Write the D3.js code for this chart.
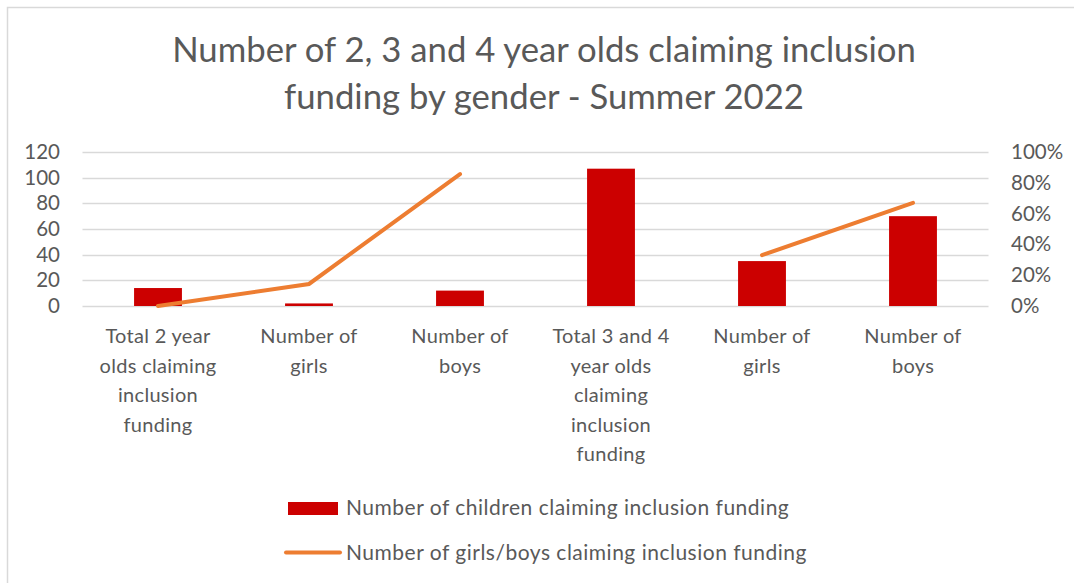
<!DOCTYPE html>
<html>
<head>
<meta charset="utf-8">
<script src="https://cdn.jsdelivr.net/npm/d3@7"></script>
<style>
  body { margin: 0; background: #fff; }
  text { font-family: Lato, "Open Sans", sans-serif; fill: #595959; }
</style>
</head>
<body>
<script>
// data
const categories = [
    ["Total 2 year", "olds claiming", "inclusion", "funding"],
    ["Number of", "girls"],
    ["Number of", "boys"],
    ["Total 3 and 4", "year olds", "claiming", "inclusion", "funding"],
    ["Number of", "girls"],
    ["Number of", "boys"]
]
const children = [14, 2, 12, 107, 35, 70]
const shares = [0, 0.143, 0.857, null, 0.33, 0.67]
const leftTicks = [0, 20, 40, 60, 80, 100, 120]
const rightTicks = [0, 0.2, 0.4, 0.6, 0.8, 1]

const W = 1074, H = 583
const plot = { left: 82.5, right: 988.5, top: 152, bottom: 306 }

var svg = d3.select("body")
    .append("svg")
    .attr("width", W)
    .attr("height", H)

// chart border (only top and left show in the picture)
svg.append("path")
    .attr("d", "M7.5,583 V7.5 H1074")
    .attr("fill", "none")
    .attr("stroke", "#d9d9d9")
    .attr("stroke-width", 1.5)

// title
const title = svg.append("text")
    .attr("text-anchor", "middle")
    .style("font-size", "34.7px")
title.append("tspan").attr("x", 544).attr("y", 62).text("Number of 2, 3 and 4 year olds claiming inclusion")
title.append("tspan").attr("x", 544).attr("y", 109).text("funding by gender - Summer 2022")

const x = d3.scaleBand()
    .domain(d3.range(categories.length))
    .range([plot.left, plot.right])
    .padding(0)

const y = d3.scaleLinear().domain([0, 120]).range([plot.bottom, plot.top])
const y2 = d3.scaleLinear().domain([0, 1]).range([plot.bottom, plot.top])

// gridlines
svg.append("g")
    .selectAll("line")
    .data(leftTicks)
    .enter()
    .append("line")
    .attr("x1", plot.left)
    .attr("x2", plot.right)
    .attr("y1", d => Math.round(y(d)) + 0.5)
    .attr("y2", d => Math.round(y(d)) + 0.5)
    .attr("stroke", "#d9d9d9")
    .attr("stroke-width", 1.3)

// left axis
const leftAxis = svg.append("g")
    .attr("transform", `translate(60,0)`)
    .call(d3.axisLeft(y).tickValues(leftTicks).tickSize(0).tickPadding(0))
leftAxis.select(".domain").remove()
leftAxis.selectAll("text")
    .style("font-size", "20.5px")
    .style("font-family", "Lato, sans-serif")
    .attr("fill", "#595959")

// right axis
const rightAxis = svg.append("g")
    .attr("transform", `translate(1011,0)`)
    .call(d3.axisRight(y2).tickValues(rightTicks).tickFormat(d3.format(".0%")).tickSize(0).tickPadding(0))
rightAxis.select(".domain").remove()
rightAxis.selectAll("text")
    .style("font-size", "20.5px")
    .style("font-family", "Lato, sans-serif")
    .attr("fill", "#595959")

// bars
const barW = x.bandwidth() * 0.317
svg.append("g")
    .selectAll("rect")
    .data(children)
    .enter()
    .append("rect")
    .attr("x", (d, i) => x(i) + x.bandwidth() / 2 - barW / 2)
    .attr("y", d => y(d))
    .attr("width", barW)
    .attr("height", d => y(0) - y(d))
    .attr("fill", "#cc0000")

// line (breaks where there is no value)
const line = d3.line()
    .defined(d => d != null)
    .x((d, i) => x(i) + x.bandwidth() / 2)
    .y(d => y2(d))
svg.append("path")
    .datum(shares)
    .attr("d", line)
    .attr("fill", "none")
    .attr("stroke", "#ed7d31")
    .attr("stroke-width", 4)
    .attr("stroke-linecap", "round")

// category labels
const labels = svg.append("g")
    .selectAll("text")
    .data(categories)
    .enter()
    .append("text")
    .attr("text-anchor", "middle")
    .style("font-size", "20px")
    .style("letter-spacing", "0.3px")
labels.selectAll("tspan")
    .data((d, i) => d.map(t => ({ t, i })))
    .enter()
    .append("tspan")
    .attr("x", d => x(d.i) + x.bandwidth() / 2)
    .attr("y", (d, j) => 343 + j * 29.5)
    .text(d => d.t)

// legend
const legend = svg.append("g")
legend.append("rect")
    .attr("x", 288).attr("y", 502)
    .attr("width", 50).attr("height", 13)
    .attr("fill", "#cc0000")
legend.append("text")
    .attr("x", 346).attr("y", 515)
    .style("font-size", "21px")
    .style("letter-spacing", "0.5px")
    .text("Number of children claiming inclusion funding")
legend.append("line")
    .attr("x1", 286).attr("x2", 340)
    .attr("y1", 552.5).attr("y2", 552.5)
    .attr("stroke", "#ed7d31")
    .attr("stroke-width", 4)
    .attr("stroke-linecap", "round")
legend.append("text")
    .attr("x", 346).attr("y", 560)
    .style("font-size", "21px")
    .style("letter-spacing", "0.5px")
    .text("Number of girls/boys claiming inclusion funding")
</script>
</body>
</html>
